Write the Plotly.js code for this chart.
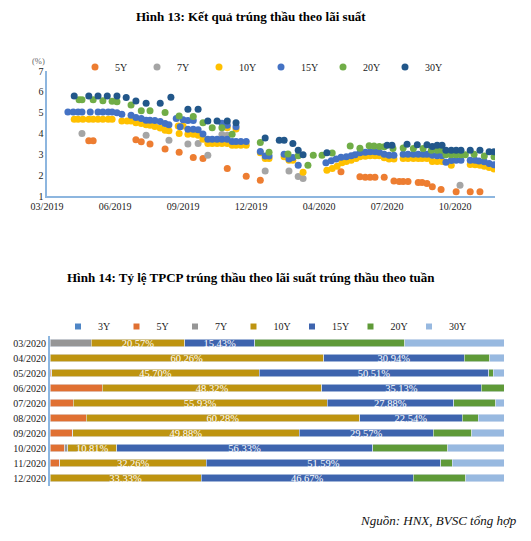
<!DOCTYPE html>
<html><head><meta charset="utf-8">
<script src="https://cdn.plot.ly/plotly-3.0.1.min.js"></script>
<style>html,body{margin:0;padding:0;background:#fff}#c{width:531px;height:541px}</style>
</head><body><div id="c"></div>
<script>
// ---- Figure 13: winning yields by tenor (x = auction session index) ----
const xTickVals = [0,14,28,42,56,70,84];
const xTickText = ['03/2019','06/2019','09/2019','12/2019','04/2020','07/2020','10/2020'];

const x5 = [8.6,9.5,18.3,19.4,21.2,24.3,27.2,30.1,32.1,37.1,41.0,43.9,60.5,64.4,65.5,66.5,67.5,69.4,71.4,72.5,73.3,74.3,76.4,77.2,78.2,79.3,81.1,84.2,87.1,89.1];
const y5 = [3.65,3.65,3.70,3.60,3.50,3.25,3.10,2.85,2.80,2.32,1.95,1.76,2.16,1.92,1.90,1.90,1.90,1.90,1.72,1.70,1.70,1.70,1.65,1.65,1.60,1.44,1.31,1.20,1.20,1.20];

const x7 = [7.2,20.4,25.1,29.0,31.1,33.1,36.0,37.1,44.9,49.8,51.7,52.7,85.0];
const y7 = [4.00,3.92,3.68,3.49,3.52,2.95,3.95,3.92,2.20,2.20,1.93,1.84,1.52];

const x10 = [5.6,6.4,7.4,8.6,9.5,10.5,11.5,12.6,13.4,15.4,16.5,17.3,18.3,19.4,20.4,21.2,22.2,23.3,24.3,25.1,27.0,28.0,27.2,29.0,30.1,31.1,32.1,33.1,34.0,35.0,36.0,37.1,37.1,38.9,38.1,38.9,39.9,41.0,43.9,44.9,45.7,48.8,49.8,50.6,52.7,57.6,58.7,59.7,60.7,61.6,62.6,63.6,64.4,65.5,66.5,67.5,68.4,69.4,70.4,71.4,73.3,74.3,75.4,76.4,77.2,78.2,79.3,80.3,81.3,83.2,87.1,88.1,89.1,90.0,91.0,92.0];
const y10 = [4.68,4.68,4.68,4.68,4.68,4.68,4.68,4.68,4.68,4.60,4.60,4.60,4.52,4.48,4.42,4.40,4.34,4.26,4.16,4.13,4.36,4.36,4.00,3.96,3.96,3.92,3.72,3.52,3.52,3.52,3.52,3.52,4.28,4.22,3.44,3.44,3.44,3.44,3.07,2.80,2.80,2.88,2.72,2.72,2.14,2.24,2.32,2.43,2.59,2.66,2.72,2.80,2.88,2.91,2.93,2.93,2.93,2.83,2.77,2.77,2.80,2.80,2.80,2.80,2.80,2.80,2.66,2.66,2.66,2.48,2.51,2.50,2.47,2.43,2.37,2.30];

const x15 = [4.3,5.4,6.4,7.2,8.9,10.5,11.5,12.6,13.4,14.4,15.4,17.3,18.3,19.4,20.4,21.2,22.2,23.3,24.3,25.1,26.6,27.4,28.0,29.0,30.1,29.0,30.1,31.1,32.1,33.1,34.0,35.0,36.0,37.1,38.1,38.9,39.9,41.0,36.0,37.1,38.9,43.9,44.9,45.7,48.8,49.8,50.6,51.7,57.4,58.5,59.5,60.5,61.6,62.6,63.4,64.4,65.5,66.5,67.5,68.4,69.4,70.4,71.4,73.3,74.3,75.4,76.4,77.4,78.2,79.3,80.3,81.3,82.1,83.2,84.2,85.2,87.1,88.1,88.9,90.0,91.0,92.0];
const y15 = [5.03,5.03,5.03,5.03,5.03,5.03,5.03,5.03,5.03,5.00,4.92,4.88,4.77,4.72,4.64,4.64,4.62,4.58,4.48,4.42,4.72,4.32,4.66,4.62,4.62,4.20,4.20,4.18,3.97,3.72,3.72,3.72,3.72,3.72,3.62,3.62,3.62,3.62,4.49,4.40,4.32,3.14,2.92,2.92,3.00,2.78,2.85,2.48,2.60,2.69,2.78,2.86,2.88,2.93,2.98,3.07,3.10,3.12,3.12,3.10,3.00,2.96,2.96,3.00,3.00,3.00,3.00,3.00,3.00,2.96,2.93,2.93,2.62,2.70,2.72,2.72,2.72,2.72,2.68,2.64,2.56,2.50];

const x20 = [6.6,7.2,9.5,11.5,13.4,14.4,17.3,19.4,21.2,24.3,27.2,30.1,32.1,34.0,36.0,38.1,43.9,45.7,49.6,51.7,53.7,54.8,56.6,58.7,62.4,64.4,66.3,67.3,68.4,69.4,71.2,73.3,75.4,77.4,79.1,80.3,81.3,82.1,83.2,84.2,85.2,86.1,87.9,90.0,92.0];
const y20 = [5.62,5.62,5.62,5.57,5.55,5.53,5.37,5.09,5.09,5.01,4.84,4.82,4.52,4.28,4.28,3.96,3.57,3.10,3.02,2.93,2.48,2.95,2.95,3.06,3.40,3.29,3.41,3.40,3.38,3.36,3.28,3.30,3.28,3.28,3.20,3.20,3.20,2.98,2.98,2.98,2.98,2.98,3.00,2.92,2.88];

const x30 = [5.6,8.6,10.5,12.4,14.4,16.3,18.3,20.4,23.3,25.5,29.0,31.1,33.1,35.0,37.1,38.9,44.9,47.8,48.8,50.6,51.7,52.7,57.6,70.0,71.0,74.1,76.2,78.2,79.3,80.3,81.3,82.1,83.2,84.2,85.2,87.1,89.1,91.0,92.0];
const y30 = [5.80,5.80,5.80,5.80,5.80,5.73,5.56,5.45,5.45,5.74,5.16,5.16,4.60,4.60,4.60,4.52,3.78,3.68,3.68,3.52,3.20,2.98,3.07,3.44,3.44,3.48,3.46,3.46,3.38,3.44,3.44,3.20,3.20,3.20,3.20,3.20,3.20,3.12,3.12];

// ---- Figure 14: share of winning volume by tenor (%) ----
const months = ['03/2020','04/2020','05/2020','06/2020','07/2020','08/2020','09/2020','10/2020','11/2020','12/2020'];
const b3  = [0,0,0,0,0,0,0,0,0,0];
const b5  = [0,0,0.4,11.55,5.1,7.95,5.0,3.2,2.2,0];
const b7  = [9.1,0,0,0,0,0,0,0.7,0,0];
const b10 = [20.57,60.26,45.70,48.32,55.93,60.28,49.88,10.81,32.26,33.33];
const b15 = [15.43,30.94,50.51,35.13,27.88,22.54,29.57,56.33,51.59,46.67];
const b20 = [33.0,5.7,1.0,5.0,9.3,3.6,8.4,16.6,2.5,11.6];
const b30 = [21.9,3.1,2.39,0,1.79,5.63,7.15,12.36,11.45,8.4];

const W = 531, H = 541;
const PX = x => x / W, PY = y => 1 - y / H;
const FONT = 'Liberation Serif, Times New Roman, serif';
const AXC = '#8DB6DF';

const sc = [
  ['5Y', x5, y5, '#ED7D31'],
  ['7Y', x7, y7, '#A5A5A5'],
  ['10Y', x10, y10, '#FFC000'],
  ['15Y', x15, y15, '#4472C4'],
  ['20Y', x20, y20, '#70AD47'],
  ['30Y', x30, y30, '#22578A']
];
const traces = sc.map(s => ({
  type: 'scatter', mode: 'markers', name: s[0], x: s[1], y: s[2],
  xaxis: 'x', yaxis: 'y', legend: 'legend',
  marker: {color: s[3], size: 7}, hoverinfo: 'x+y'
}));

const bs = [
  ['3Y', b3, '#4F86C6', false],
  ['5Y', b5, '#E07032', false],
  ['7Y', b7, '#969696', false],
  ['10Y', b10, '#BE9410', true],
  ['15Y', b15, '#3E64AE', true],
  ['20Y', b20, '#5F9A38', false],
  ['30Y', b30, '#98B9E0', false]
];
bs.forEach(b => {
  traces.push({
    type: 'bar', orientation: 'h', name: b[0], x: b[1], y: months,
    xaxis: 'x2', yaxis: 'y2', showlegend: false,
    marker: {color: b[2], line: {color: '#E3EAF3', width: 0.6}},
    text: b[3] ? b[1].map(v => v.toFixed(2) + '%') : undefined,
    textposition: b[3] ? 'inside' : 'none',
    insidetextanchor: 'middle', textangle: 0, constraintext: 'none',
    textfont: {color: '#FFFFFF', family: FONT, size: 10.5},
    hoverinfo: 'x+y+name'
  });
  // legend key (small square) for the bar series
  traces.push({
    type: 'scatter', mode: 'markers', name: b[0], x: [null], y: [null],
    xaxis: 'x2', yaxis: 'y2', legend: 'legend2',
    marker: {color: b[2], size: 6, symbol: 'square'}, hoverinfo: 'skip'
  });
});

const layout = {
  width: W, height: H,
  margin: {l: 0, r: 0, t: 0, b: 0},
  paper_bgcolor: '#fff', plot_bgcolor: '#fff',
  font: {family: FONT, size: 10, color: '#222'},
  showlegend: true,
  barmode: 'stack', bargap: 0.47,
  xaxis: {domain: [PX(47), PX(495)], range: [0, 92.2], tickvals: xTickVals, ticktext: xTickText,
    showline: true, linecolor: AXC, linewidth: 1.6, showgrid: false, zeroline: false, ticks: '',
    tickfont: {size: 10, family: FONT, color: '#222'}, anchor: 'y', fixedrange: true},
  yaxis: {domain: [PY(196), PY(71)], range: [1, 7], dtick: 1, showline: true, linecolor: AXC,
    linewidth: 1.6, showgrid: false, zeroline: false, ticks: '', anchor: 'x',
    tickfont: {size: 10, family: FONT, color: '#222'}, fixedrange: true},
  xaxis2: {domain: [PX(50), PX(504)], range: [0, 100], visible: false, anchor: 'y2', fixedrange: true},
  yaxis2: {domain: [PY(485.5), PY(335.5)], type: 'category', autorange: 'reversed', anchor: 'x2',
    showline: true, linecolor: AXC, linewidth: 2, showgrid: false, zeroline: false, ticks: '',
    tickfont: {size: 10, family: FONT, color: '#222'}, fixedrange: true},
  legend: {orientation: 'h', traceorder: 'normal', x: PX(75), y: PY(67), xanchor: 'left', yanchor: 'middle',
    font: {size: 10, family: FONT, color: '#222'}, entrywidth: 17, entrywidthmode: 'pixels',
    bgcolor: 'rgba(0,0,0,0)', itemclick: false, itemdoubleclick: false},
  legend2: {orientation: 'h', traceorder: 'normal', x: PX(58), y: PY(326.5), xanchor: 'left', yanchor: 'middle',
    font: {size: 10, family: FONT, color: '#222'}, entrywidth: 13.5, entrywidthmode: 'pixels',
    bgcolor: 'rgba(0,0,0,0)', itemclick: false, itemdoubleclick: false},
  annotations: [
    {text: '<b>Hình 13: Kết quả trúng thầu theo lãi suất</b>', xref: 'paper', yref: 'paper',
     x: PX(251), y: PY(17), xanchor: 'center', yanchor: 'middle', showarrow: false,
     font: {family: FONT, size: 13, color: '#000'}},
    {text: '<b>Hình 14: Tỷ lệ TPCP trúng thầu theo lãi suất trúng thầu theo tuần</b>', xref: 'paper', yref: 'paper',
     x: PX(251), y: PY(277), xanchor: 'center', yanchor: 'middle', showarrow: false,
     font: {family: FONT, size: 13, color: '#000'}},
    {text: '(%)', xref: 'paper', yref: 'paper', x: PX(38), y: PY(61), xanchor: 'center', yanchor: 'middle',
     showarrow: false, font: {family: FONT, size: 8.5, color: '#666'}},
    {text: '<i>Nguồn: HNX, BVSC tổng hợp</i>', xref: 'paper', yref: 'paper',
     x: PX(519), y: PY(520), xanchor: 'right', yanchor: 'middle', showarrow: false,
     font: {family: FONT, size: 13, color: '#111'}}
  ]
};

Plotly.newPlot('c', traces, layout, {displayModeBar: false, staticPlot: true});
</script>
</body></html>
